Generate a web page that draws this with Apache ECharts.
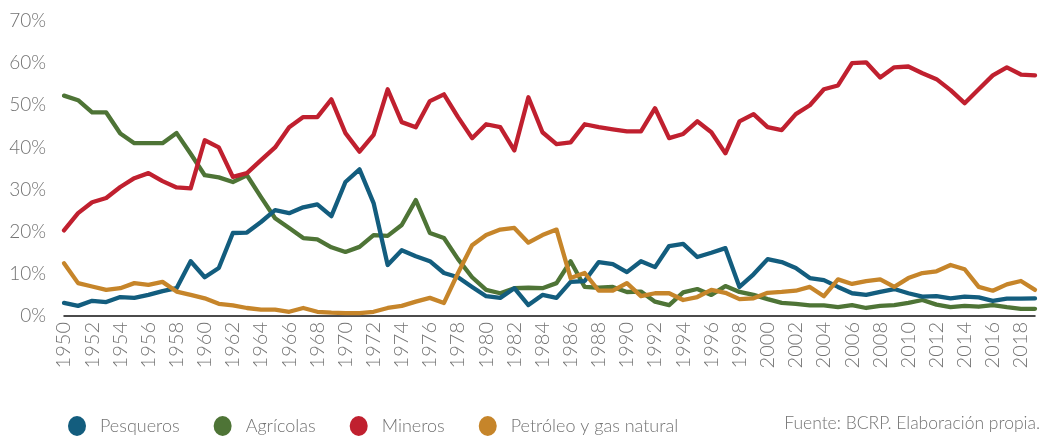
<!DOCTYPE html>
<html>
<head>
<meta charset="utf-8">
<script src="https://cdn.jsdelivr.net/npm/echarts@6/dist/echarts.min.js"></script>
<style>
  html, body { margin: 0; padding: 0; background: #fff; }
  #chart { width: 1045px; height: 437px; }
</style>
</head>
<body>
<div id="chart"></div>
<script>
const years = [
  "1950", "1951", "1952", "1953", "1954", "1955", "1956", "1957", "1958", "1959",
  "1960", "1961", "1962", "1963", "1964", "1965", "1966", "1967", "1968", "1969",
  "1970", "1971", "1972", "1973", "1974", "1975", "1976", "1977", "1978", "1979",
  "1980", "1981", "1982", "1983", "1984", "1985", "1986", "1987", "1988", "1989",
  "1990", "1991", "1992", "1993", "1994", "1995", "1996", "1997", "1998", "1999",
  "2000", "2001", "2002", "2003", "2004", "2005", "2006", "2007", "2008", "2009",
  "2010", "2011", "2012", "2013", "2014", "2015", "2016", "2017", "2018", "2019"
];

// % of exports by sector
const pesqueros = [
  3.1, 2.4, 3.6, 3.3, 4.5, 4.3, 5.0, 5.9, 6.6, 13.0,
  9.2, 11.4, 19.7, 19.8, 22.3, 25.1, 24.4, 25.8, 26.5, 23.7,
  31.8, 34.8, 26.8, 12.1, 15.6, 14.2, 13.0, 10.2, 9.2, 6.9,
  4.7, 4.3, 6.6, 2.6, 5.0, 4.3, 8.1, 8.3, 12.8, 12.3,
  10.4, 13.0, 11.6, 16.6, 17.1, 14.0, 15.0, 16.1, 6.9, 9.9,
  13.5, 12.8, 11.4, 9.0, 8.5, 6.9, 5.4, 5.0, 5.7, 6.4,
  5.4, 4.6, 4.7, 4.2, 4.6, 4.4, 3.6, 4.1, 4.1, 4.2
];
const agricolas = [
  52.3, 51.2, 48.3, 48.3, 43.3, 41.0, 41.0, 41.0, 43.4, 38.5,
  33.4, 32.9, 31.8, 33.4, 28.2, 23.2, 20.9, 18.5, 18.2, 16.3,
  15.2, 16.4, 19.2, 19.0, 21.6, 27.5, 19.7, 18.5, 13.5, 9.2,
  6.2, 5.4, 6.6, 6.7, 6.6, 7.8, 13.0, 6.9, 6.7, 6.9,
  5.7, 5.8, 3.4, 2.6, 5.6, 6.4, 5.0, 7.1, 5.7, 5.0,
  4.0, 3.1, 2.9, 2.5, 2.5, 2.1, 2.6, 1.9, 2.4, 2.6,
  3.1, 3.8, 2.7, 2.1, 2.4, 2.2, 2.6, 2.1, 1.7, 1.7
];
const mineros = [
  20.3, 24.4, 27.0, 28.0, 30.6, 32.7, 33.9, 32.0, 30.5, 30.3,
  41.7, 40.0, 33.0, 33.9, 37.0, 40.0, 44.8, 47.2, 47.2, 51.4,
  43.4, 39.0, 43.0, 53.8, 46.0, 44.8, 51.0, 52.6, 47.2, 42.2,
  45.5, 44.8, 39.3, 51.9, 43.6, 40.8, 41.2, 45.5, 44.8, 44.3,
  43.8, 43.8, 49.3, 42.2, 43.2, 46.2, 43.6, 38.6, 46.2, 47.9,
  44.8, 44.1, 47.9, 50.0, 53.8, 54.7, 60.0, 60.2, 56.6, 59.0,
  59.2, 57.6, 56.2, 53.6, 50.5, 53.8, 57.1, 59.0, 57.3, 57.1
];
const petroleo = [
  12.5, 7.8, 7.0, 6.2, 6.6, 7.8, 7.4, 8.1, 5.8, 5.0,
  4.2, 2.9, 2.5, 1.9, 1.5, 1.5, 1.0, 1.9, 1.0, 0.8,
  0.7, 0.7, 1.0, 1.9, 2.4, 3.4, 4.3, 3.1, 10.2, 16.8,
  19.2, 20.5, 20.9, 17.4, 19.2, 20.5, 9.0, 10.2, 6.0, 6.0,
  7.8, 4.7, 5.4, 5.4, 3.8, 4.5, 6.2, 5.5, 4.0, 4.2,
  5.5, 5.7, 6.0, 6.9, 4.7, 8.7, 7.6, 8.3, 8.7, 6.9,
  9.0, 10.2, 10.6, 12.1, 11.1, 6.9, 6.0, 7.5, 8.3, 6.2
];

const yTicks = [0, 10, 20, 30, 40, 50, 60, 70];

const seriesNames = ["Pesqueros", "Agrícolas", "Mineros", "Petróleo y gas natural"];
const seriesColors = ["#135d7e", "#4e7436", "#c0202f", "#c6852a"];

const textGray = "#737373";
const fontFam = "Lato, 'Open Sans', sans-serif";
const ellipse = "path://M0,10a9,10 0 1,0 18,0a9,10 0 1,0 -18,0";

function lineSeries(idx, data) {
  return {
    name: seriesNames[idx],
    type: "line",
    data: data,
    symbol: "none",
    smooth: false,
    lineStyle: { color: seriesColors[idx], width: 4.3, join: "round", cap: "round" },
    itemStyle: { color: seriesColors[idx] },
    emphasis: { disabled: true }
  };
}

const chart = echarts.init(document.getElementById("chart"), null, { renderer: "canvas" });

chart.setOption({
  animation: false,
  textStyle: { fontFamily: fontFam },
  grid: { left: 64, right: 10, top: 21, bottom: 121, containLabel: false },
  xAxis: {
    type: "category",
    data: years,
    boundaryGap: false,
    axisLine: { show: true, lineStyle: { color: "#111", width: 1.5 } },
    axisTick: { show: false },
    axisLabel: {
      interval: 1,
      rotate: 90,
      margin: 6,
      color: textGray,
      fontSize: 20,
      fontWeight: 300,
      fontFamily: fontFam
    },
    splitLine: { show: false }
  },
  yAxis: {
    type: "value",
    min: yTicks[0],
    max: yTicks[yTicks.length - 1],
    interval: 10,
    axisLine: { show: false },
    axisTick: { show: false },
    splitLine: { show: false },
    axisLabel: {
      formatter: "{value}%",
      margin: 18,
      color: textGray,
      fontSize: 19,
      fontWeight: 300,
      fontFamily: fontFam
    }
  },
  legend: {
    data: seriesNames.map(function (n) { return { name: n, icon: ellipse }; }),
    left: 63,
    top: 411,
    itemWidth: 18,
    itemHeight: 20,
    itemGap: 34,
    textStyle: {
      color: textGray, fontSize: 18, fontWeight: 300, fontFamily: fontFam,
      padding: [0, 0, 2, 9]
    }
  },
  graphic: [{
    type: "text",
    right: 5,
    top: 414,
    style: {
      text: "Fuente: BCRP. Elaboración propia.",
      fill: textGray,
      fontSize: 17.5,
      fontWeight: 300,
      fontFamily: fontFam
    }
  }],
  series: [
    lineSeries(1, agricolas),
    lineSeries(0, pesqueros),
    lineSeries(2, mineros),
    lineSeries(3, petroleo)
  ]
});
</script>
</body>
</html>
